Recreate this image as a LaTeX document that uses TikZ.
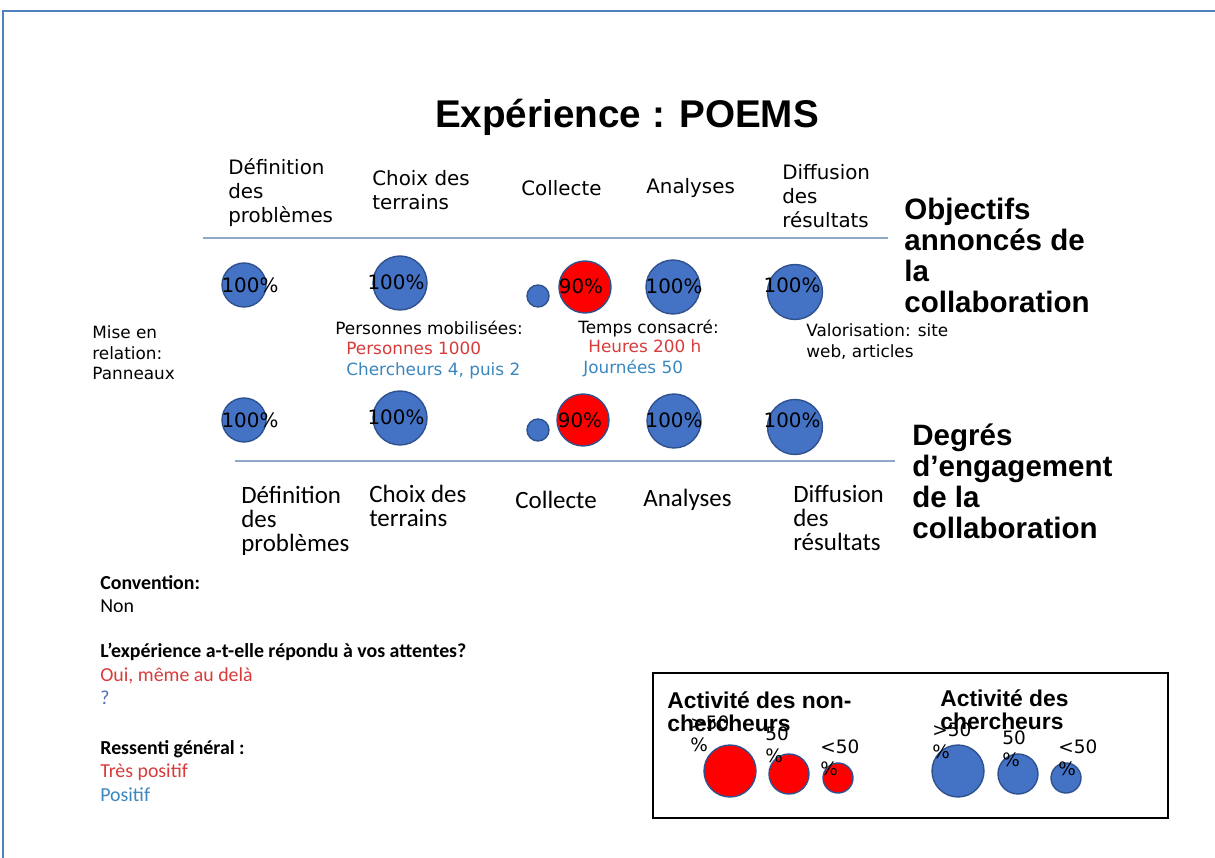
\documentclass[tikz,border=0pt]{standalone}
\usepackage{fontspec}
\setmainfont{DejaVu Sans}
\newfontfamily\arialfont{Liberation Sans}
\newfontfamily\calfont{Carlito}
\usetikzlibrary{positioning}
\definecolor{ballblue}{HTML}{4472C4}
\definecolor{balledge}{HTML}{2F528F}
\definecolor{ballred}{HTML}{FF0000}
\definecolor{txtred}{HTML}{D93A3A}
\definecolor{txtblue}{HTML}{3A86BE}
\definecolor{qblue}{HTML}{5070B4}
\definecolor{ruleblue}{HTML}{8EA9C8}
\definecolor{frameblue}{HTML}{4F81BD}
\tikzstyle{maintitle} = [inner sep=0, font=\arialfont\bfseries\fontsize{22}{26}\selectfont]
\tikzstyle{sidetitle} = [align=left, anchor=north west, inner sep=0, font=\arialfont\bfseries\fontsize{16.8}{17.6}\selectfont]
\tikzstyle{stagetop} = [align=left, anchor=north west, inner sep=0, font=\fontsize{11.3}{13.6}\selectfont]
\tikzstyle{stagebot} = [align=left, anchor=north west, inner sep=0, font=\calfont\fontsize{14.2}{13.6}\selectfont]
\tikzstyle{note} = [align=left, anchor=north west, inner sep=0, font=\fontsize{9.6}{11.9}\selectfont]
\tikzstyle{leftnote} = [align=left, anchor=north west, inner sep=0, font=\calfont\fontsize{11.3}{13.4}\selectfont]
\tikzstyle{legtitle} = [align=left, anchor=north west, inner sep=0, font=\arialfont\bfseries\fontsize{13}{13.6}\selectfont]
\tikzstyle{legpct} = [align=left, anchor=north west, inner sep=0, font=\fontsize{10.5}{12.5}\selectfont]
\tikzstyle{pct} = [inner sep=0, font=\fontsize{11.3}{13}\selectfont]
\tikzstyle{blueball} = [circle, inner sep=0, draw=balledge, fill=ballblue, line width=0.8pt]
\tikzstyle{redball} = [circle, inner sep=0, draw=balledge, fill=ballred, line width=0.8pt]
\tikzstyle{rule} = [ruleblue, line width=0.9pt]

\begin{document}
\begin{tikzpicture}[x=0.02cm, y=-0.02cm]
\useasboundingbox (0,0) rectangle (1215,858);
\draw [frameblue, line width=1.2pt] (3,858) -- (3,11) -- (1215,11);

\node (title) [maintitle] at (627,117) {Expérience : POEMS};

% étapes du haut
\node (deftop) [stagetop] at (228,158) {Définition\\des\\problèmes};
\node (choixtop) [stagetop] at (372,170) {Choix des\\terrains};
\node (colltop) [stagetop, anchor=west] at (521,188) {Collecte};
\node (anatop) [stagetop, anchor=west] at (646,188) {Analyses};
\node (difftop) [stagetop] at (782,164) {Diffusion\\des\\résultats};
\coordinate (topruleL) at (203,238);
\coordinate (topruleR) at (888,238);
\draw [rule] (topruleL) -- (topruleR);
\node (objectifs) [sidetitle] at (904,198) {Objectifs\\annoncés de\\la\\collaboration};

% objectifs annoncés
\node (oball1) [blueball, minimum size=0.88cm] at (244,285) {};
\node (oball2) [blueball, minimum size=1.08cm] at (400,283) {};
\node (oball3a) [blueball, minimum size=0.44cm] at (538,296) {};
\node (oball3b) [redball, minimum size=1.04cm] at (585,287) {};
\node (oball4) [blueball, minimum size=1.08cm] at (673,287) {};
\node (oball5) [blueball, minimum size=1.1cm] at (795,292) {};
\node (opct1) [pct] at (250,285) {100\%};
\node (opct2) [pct] at (396,282) {100\%};
\node (opct3) [pct] at (581,286) {90\%};
\node (opct4) [pct] at (674,286) {100\%};
\node (opct5) [pct] at (792,285) {100\%};

% informations
\node (mise) [note] at (92,325) {Mise en\\relation:\\Panneaux};
\node (persons) [note] at (335,321) {Personnes mobilisées:};
\node (personsnb) [note] at (346,342) {\textcolor{txtred}{Personnes 1000}\\\textcolor{txtblue}{Chercheurs 4, puis 2}};
\node (temps) [note] at (578,320) {Temps consacré:};
\node (heures) [note, text=txtred] at (588,339) {Heures 200 h};
\node (journees) [note, text=txtblue] at (583,360) {Journées 50};
\node (valor) [note] at (806,323) {Valorisation: site\\web, articles};

% degrés d'engagement
\node (eball1) [blueball, minimum size=0.88cm] at (244,420) {};
\node (eball2) [blueball, minimum size=1.08cm] at (400,418) {};
\node (eball3a) [blueball, minimum size=0.44cm] at (538,430) {};
\node (eball3b) [redball, minimum size=1.04cm] at (583,420) {};
\node (eball4) [blueball, minimum size=1.08cm] at (674,421) {};
\node (eball5) [blueball, minimum size=1.1cm] at (795,427) {};
\node (epct1) [pct] at (250,420) {100\%};
\node (epct2) [pct] at (396,417) {100\%};
\node (epct3) [pct] at (580,420) {90\%};
\node (epct4) [pct] at (674,420) {100\%};
\node (epct5) [pct] at (792,420) {100\%};
\coordinate (botruleL) at (235,461);
\coordinate (botruleR) at (895,461);
\draw [rule] (botruleL) -- (botruleR);
\node (degres) [sidetitle] at (912,424) {Degrés\\d’engagement\\de la\\collaboration};

% étapes du bas
\node (defbot) [stagebot] at (241,486) {Définition\\des\\problèmes};
\node (choixbot) [stagebot] at (369,485) {Choix des\\terrains};
\node (collbot) [stagebot, anchor=west] at (515,500) {Collecte};
\node (anabot) [stagebot, anchor=west] at (643,500) {Analyses};
\node (diffbot) [stagebot] at (793,485) {Diffusion\\des\\résultats};

% bilan
\node (convention) [leftnote] at (100,575) {\textbf{Convention:}\\Non};
\node (attentes) [leftnote] at (100,643) {\textbf{L’expérience a-t-elle répondu à vos attentes?}\\\textcolor{txtred}{Oui, même au delà}\\\textcolor{qblue}{?}};
\node (ressenti) [leftnote] at (100,740) {\textbf{Ressenti général :}\\\textcolor{txtred}{Très positif}\\\textcolor{txtblue}{Positif}};

% légende
\draw [line width=1.3pt] (653,673) rectangle (1168,818);
\node (nonch) [legtitle] at (667,691) {Activité des non-\\chercheurs};
\node (ch) [legtitle] at (940,689) {Activité des\\chercheurs};
\node (lred1) [redball, minimum size=1.04cm] at (730,771) {};
\node (lred2) [redball, minimum size=0.8cm] at (789,774) {};
\node (lred3) [redball, minimum size=0.6cm] at (838,778) {};
\node (lblue1) [blueball, minimum size=1.04cm] at (958,771) {};
\node (lblue2) [blueball, minimum size=0.8cm] at (1018,774) {};
\node (lblue3) [blueball, minimum size=0.6cm] at (1066,778) {};
\node (lrpct1) [legpct] at (690,715) {>50\\\%};
\node (lrpct2) [legpct] at (765,726) {50\\\%};
\node (lrpct3) [legpct] at (820,739) {<50\\\%};
\node (lbpct1) [legpct] at (932,722) {>50\\\%};
\node (lbpct2) [legpct] at (1002,730) {50\\\%};
\node (lbpct3) [legpct] at (1058,739) {<50\\\%};
\end{tikzpicture}
\end{document}
